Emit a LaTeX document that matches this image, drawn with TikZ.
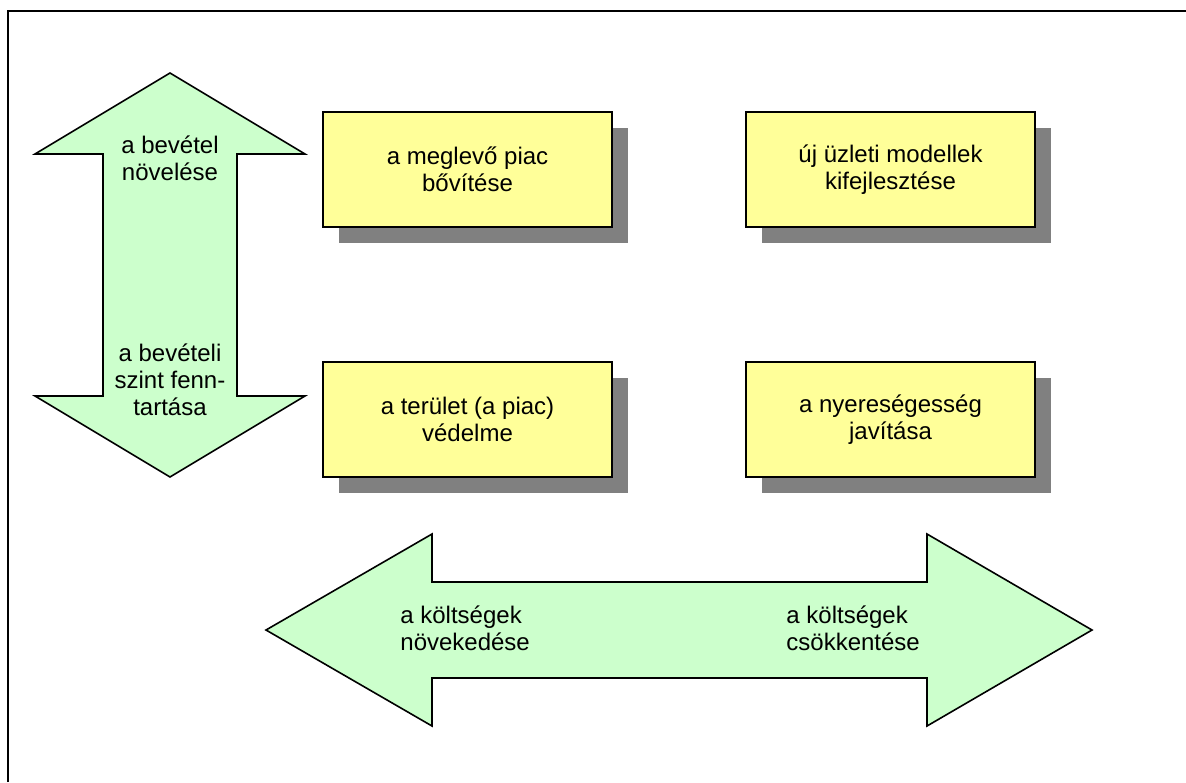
\documentclass[tikz,border=0pt]{standalone}
\usepackage{fontspec}
\setmainfont{Liberation Sans}
\usepackage{tikz}
\usetikzlibrary{shadows, positioning}
\usepackage{xcolor}
\definecolor{arrowgreen}{RGB}{204, 255, 204}
\definecolor{boxyellow}{RGB}{255, 255, 153}
\definecolor{shadowgray}{RGB}{128, 128, 128}

\tikzset{
    strategybox/.style={draw=black, line width=1.1pt, fill=boxyellow,
        minimum width=144.5pt, minimum height=57.5pt, align=center, inner sep=2pt,
        drop shadow={shadow xshift=8pt, shadow yshift=-8pt, fill=shadowgray, opacity=1}},
    bigarrow/.style={draw=black, line width=0.8pt, fill=arrowgreen, line join=miter},
    arrowtext/.style={inner sep=0pt}
}

\begin{document}
\begin{tikzpicture}[x=0.5pt, y=-0.5pt, font=\fontsize{12}{13.5}\selectfont]
    \useasboundingbox (0,0) rectangle (1186,782);
    % frame
    \draw[line width=1.4pt] (8,782) -- (8,11) -- (1186,11);

    % vertical double arrow: revenue
    \draw[bigarrow] (170,73) -- (305,154) -- (237,154) -- (237,396) -- (305,396)
        -- (170,477) -- (35,396) -- (103,396) -- (103,154) -- (35,154) -- cycle;
    \node[arrowtext, align=center] (bevnoveles) at (170,158) {a bevétel\\növelése};
    \node[arrowtext, align=center] (bevszint) at (170,380) {a bevételi\\szint fenn-\\tartása};

    % horizontal double arrow: costs
    \draw[bigarrow] (266,630) -- (432,534) -- (432,582) -- (927,582) -- (927,534)
        -- (1092,630) -- (927,726) -- (927,678) -- (432,678) -- (432,726) -- cycle;
    \node[arrowtext, align=left, anchor=west] (ktgnoves) at (400,628) {a költségek\\növekedése};
    \node[arrowtext, align=left, anchor=west] (ktgcsokk) at (786,628) {a költségek\\csökkentése};

    % the four strategies
    \node[strategybox] (piacbovites) at (467.5,169.5) {a meglevő piac\\bővítése};
    \node[strategybox] (ujmodell) at (890.5,169.5) {új üzleti modellek\\kifejlesztése};
    \node[strategybox] (vedelem) at (467.5,419.5) {a terület (a piac)\\védelme};
    \node[strategybox] (nyereseg) at (890.5,419.5) {a nyereségesség\\javítása};
\end{tikzpicture}
\end{document}
